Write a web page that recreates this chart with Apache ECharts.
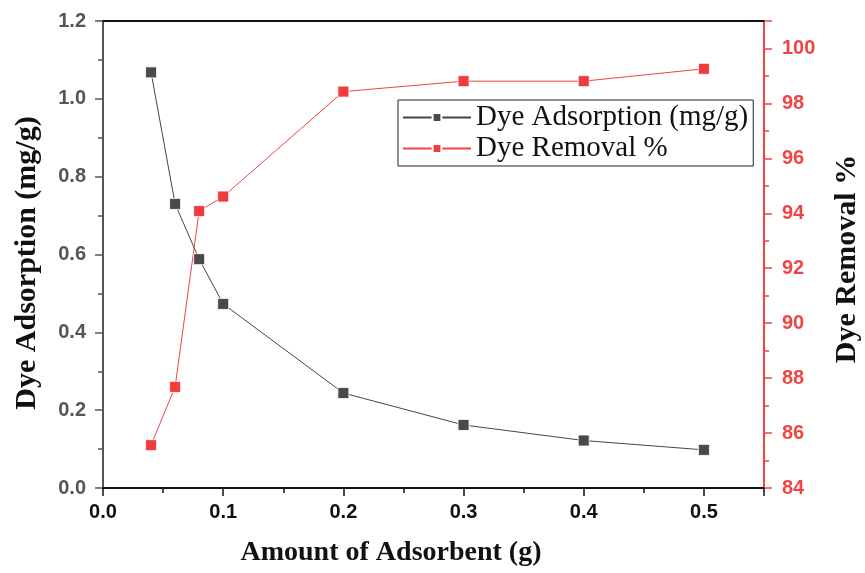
<!DOCTYPE html>
<html><head><meta charset="utf-8">
<script src="https://cdn.jsdelivr.net/npm/echarts@6/dist/echarts.min.js"></script>
<style>html,body{margin:0;padding:0;background:#fff}#c{width:865px;height:573px}</style>
</head><body><div id="c"></div>
<script>
const xValues = [0.04, 0.06, 0.08, 0.1, 0.2, 0.3, 0.4, 0.5];
const adsorption = [1.068, 0.730, 0.588, 0.473, 0.244, 0.162, 0.122, 0.098];
const removal = [85.56, 87.68, 94.08, 94.61, 98.43, 98.81, 98.81, 99.26];
const seriesNames = ['Dye Adsorption (mg/g)', 'Dye Removal %'];
const xTitle = 'Amount of Adsorbent (g)';
const yLeftTitle = 'Dye Adsorption (mg/g)';
const yRightTitle = 'Dye Removal %';

const chart = echarts.init(document.getElementById('c'), null, {renderer: 'canvas'});
const gridL = 103, gridR = 101, gridT = 21, gridB = 85;
const lblFont = {fontFamily: 'Liberation Sans, Arial', fontWeight: 'bold', fontSize: 20};
chart.setOption({
  animation: false,
  backgroundColor: '#fff',
  grid: {left: gridL, right: gridR, top: gridT, bottom: gridB, containLabel: false},
  legend: {
    left: 398, top: 100, orient: 'vertical',
    data: seriesNames,
    itemWidth: 68, itemHeight: 11, itemGap: 2,
    padding: [3, 5, 3, 4],
    borderColor: '#222', borderWidth: 1,
    textStyle: {fontFamily: 'Liberation Serif, Times New Roman', fontSize: 29, color: '#111', padding: [0,0,0,0]}
  },
  xAxis: [{
    type: 'value', min: 0, max: 0.55, interval: 0.1,
    axisLine: {show: true, onZero: false, lineStyle: {color: '#111', width: 2}},
    axisTick: {show: true, inside: false, length: 8, lineStyle: {color: '#111', width: 1.5}},
    minorTick: {show: true, splitNumber: 2, length: 5, lineStyle: {color: '#111', width: 1.5}},
    splitLine: {show: false},
    axisLabel: Object.assign({color: '#111', margin: 14, formatter: v => v.toFixed(1),
      showMaxLabel: false}, lblFont)
  }, {
    type: 'value', position: 'top', min: 0, max: 0.55,
    axisLine: {show: true, onZero: false, lineStyle: {color: '#111', width: 2}},
    axisTick: {show: false}, axisLabel: {show: false}, splitLine: {show: false}
  }],
  yAxis: [{
    type: 'value', min: 0, max: 1.2, interval: 0.2, position: 'left',
    axisLine: {show: true, onZero: false, lineStyle: {color: '#555', width: 2}},
    axisTick: {show: true, inside: false, length: 8, lineStyle: {color: '#555', width: 1.5}},
    minorTick: {show: true, splitNumber: 2, length: 5, lineStyle: {color: '#555', width: 1.5}},
    splitLine: {show: false},
    axisLabel: Object.assign({color: '#555', margin: 17, formatter: v => v.toFixed(1)}, lblFont)
  }, {
    type: 'value', min: 84, max: 101, interval: 2, position: 'right',
    axisLine: {show: true, onZero: false, lineStyle: {color: '#f04545', width: 2}},
    axisTick: {show: true, inside: false, length: 8, lineStyle: {color: '#f04545', width: 1.5}},
    minorTick: {show: true, splitNumber: 2, length: 5, lineStyle: {color: '#f04545', width: 1.5}},
    splitLine: {show: false},
    axisLabel: Object.assign({color: '#f04545', margin: 18, showMaxLabel: false}, lblFont)
  }],
  series: [{
    name: seriesNames[0], type: 'line', xAxisIndex: 0, yAxisIndex: 0,
    data: xValues.map((x, i) => [x, adsorption[i]]),
    symbol: 'rect', symbolSize: 11,
    itemStyle: {color: '#4a4a4a', borderColor: '#fff', borderWidth: 0.8},
    lineStyle: {color: '#444', width: 1}
  }, {
    name: seriesNames[1], type: 'line', xAxisIndex: 0, yAxisIndex: 1,
    data: xValues.map((x, i) => [x, removal[i]]),
    symbol: 'rect', symbolSize: 11,
    itemStyle: {color: '#f03c3c', borderColor: '#fff', borderWidth: 0.8},
    lineStyle: {color: '#f04545', width: 1}
  }],
  graphic: [{
    type: 'text', x: 391, y: 553,
    style: {text: xTitle, font: 'bold 28px "Liberation Serif", "Times New Roman"', fill: '#111',
      align: 'center', verticalAlign: 'middle'}
  }, {
    type: 'text', x: 27, y: 263, rotation: Math.PI / 2,
    style: {text: yLeftTitle, font: 'bold 30px "Liberation Serif", "Times New Roman"', fill: '#111',
      align: 'center', verticalAlign: 'middle'}
  }, {
    type: 'text', x: 847, y: 259, rotation: Math.PI / 2,
    style: {text: yRightTitle, font: 'bold 30px "Liberation Serif", "Times New Roman"', fill: '#111',
      align: 'center', verticalAlign: 'middle'}
  }]
});
</script></body></html>
